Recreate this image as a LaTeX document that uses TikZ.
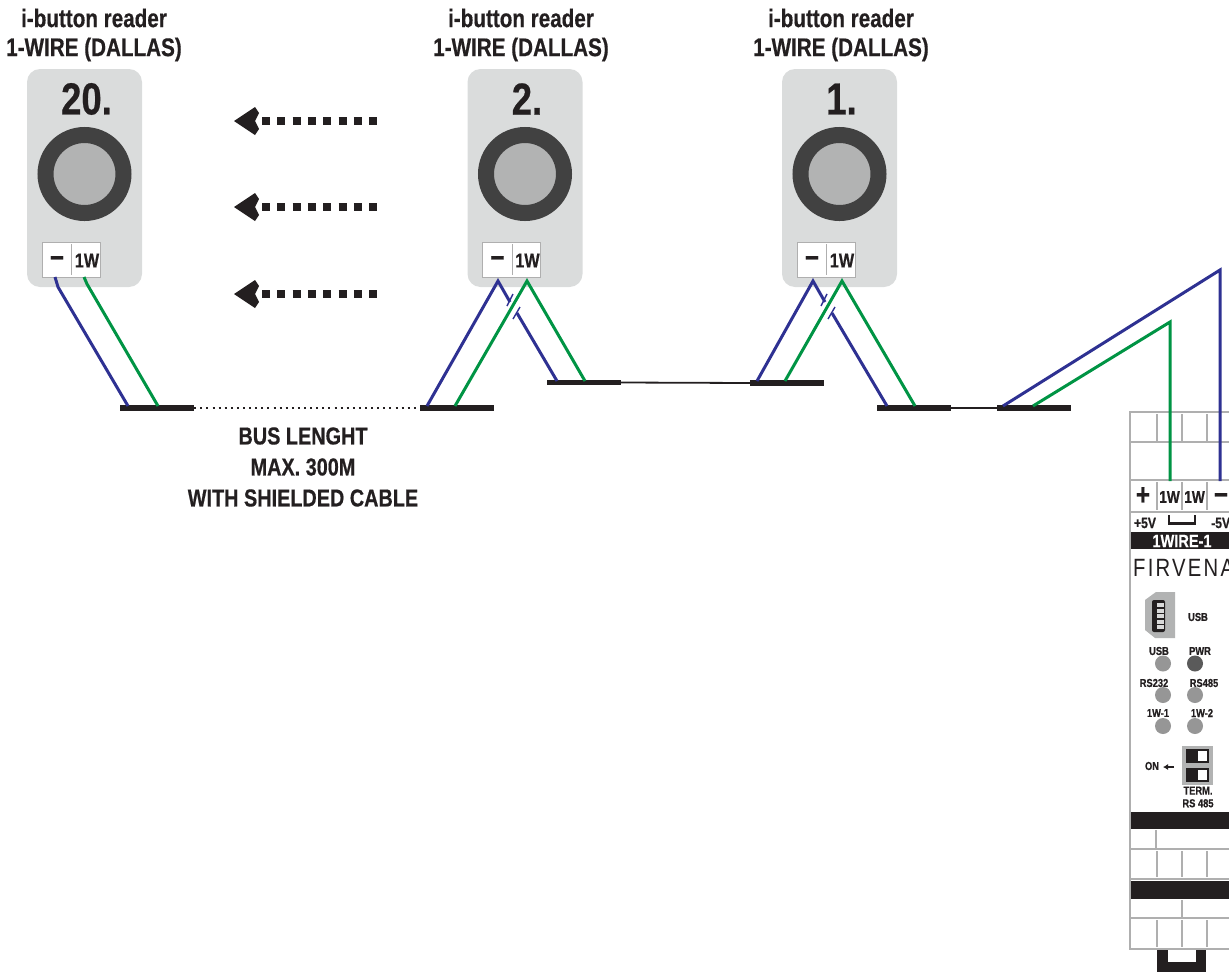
\documentclass[tikz,border=0pt]{standalone}
\usepackage{fontspec}
\setmainfont[FakeStretch=0.81,BoldFeatures={FakeBold=0.5}]{Liberation Sans}
\usetikzlibrary{arrows.meta}
\definecolor{wblue}{RGB}{46,49,146}
\definecolor{wgreen}{RGB}{0,148,68}
\definecolor{panel}{RGB}{218,220,220}
\definecolor{ringc}{RGB}{65,65,65}
\definecolor{corec}{RGB}{178,179,179}
\definecolor{ink}{RGB}{35,31,32}
\definecolor{ledc}{RGB}{150,150,150}
\definecolor{lined}{RGB}{175,175,175}
\tikzset{
 x=1pt,y=-1pt,
 title/.style={font=\bfseries\fontsize{25.5}{25.5}\selectfont,text=ink,inner sep=0,align=center},
 readerbody/.style={fill=panel,draw=none,rounded corners=13pt,minimum width=115pt,minimum height=218pt,inner sep=0},
 ring/.style={circle,fill=corec,draw=ringc,line width=16pt,minimum size=78pt,inner sep=0},
 numlabel/.style={font=\bfseries\fontsize{45}{45}\selectfont,text=ink,inner sep=0},
 termbox/.style={fill=white,draw=lined,line width=.7pt,minimum width=58pt,minimum height=35pt,inner sep=0},
 termtxt/.style={font=\bfseries\fontsize{20}{20}\selectfont,text=ink,inner sep=0},
 bluew/.style={draw=wblue,line width=3pt,line join=miter},
 greenw/.style={draw=wgreen,line width=3pt,line join=miter},
 busbar/.style={fill=ink,draw=none,minimum width=74pt,minimum height=5.6pt,inner sep=0},
 thin wire/.style={draw=ink,line width=1.8pt},
 dev/.style={draw=lined,line width=2pt},
 devthin/.style={draw=lined,line width=1.6pt},
 smalltxt/.style={font=\bfseries\fontsize{11.5}{11.5}\selectfont,text=ink,inner sep=0},
 led/.style={circle,fill=ledc,draw=none,minimum size=16pt,inner sep=0},
 dotarrow/.style={draw=ink,line width=8pt,dash pattern=on 8pt off 7.3pt},
 headfill/.style={fill=ink,draw=none},
}
\newcommand{\reader}[4]{% name, x-centre, number, label x
 \node[readerbody] (#1body) at (#2,178) {};
 \node[ring] (#1ring) at (#2,174) {};
 \node[numlabel] (#1num) at (#2+2,99) {#3};
 \node[termbox] (#1term) at (#2-13.5,259.5) {};
 \node[termtxt,font=\bfseries\fontsize{30}{30}\selectfont] (#1minus) at (#2-27.5,262) {−};
 \node[termtxt] (#1one) at (#2+2.5,260.5) {1W};
 \draw[draw=lined,line width=.8pt] (#2-13,244) -- (#2-13,275);
 \node[title] (#1title) at (#4,35) {i-button reader\\[3.5pt]1-WIRE (DALLAS)};
}
\begin{document}
\begin{tikzpicture}
\useasboundingbox (0,0) rectangle (1229,972);
\reader{c}{84.5}{20.}{94}
\reader{b}{525}{2.}{521}
\reader{a}{839.5}{1.}{841}
% dotted arrows
\foreach \n/\yy in {p/121,q/207,r/294}{
 \coordinate (\n s) at (262,\yy);
 \coordinate (\n e) at (379,\yy);
 \draw[dotarrow] (\n s) -- (\n e);
 \fill[headfill] (234,\yy) -- (255,\yy-14) -- (259,\yy-8) -- (255,\yy) -- (259,\yy+8) -- (255,\yy+14) -- cycle;
}
% bus bars
\node[busbar] (b1) at (157,408) {};
\node[busbar] (b2) at (457,408) {};
\node[busbar] (b3) at (584,382.5) {};
\node[busbar] (b4) at (787,383) {};
\node[busbar] (b5) at (914,408) {};
\node[busbar] (b6) at (1034,408) {};
\draw[ink,line width=2pt,dash pattern=on 2pt off 4.1pt] (b1.east) -- (b2.west);
\draw[thin wire] (b3.east) -- (b4.west);
\draw[thin wire] (b5.east) -- (b6.west);
% reader 20 wires
\draw[bluew] (55,277) -- (58,287) -- (128,406);
\draw[greenw] (84,277) -- (87,284) -- (158,406);
% reader 2 wires
\draw[bluew] (427,406) -- (498,281) -- (510,302);
\draw[wblue,line width=1.4pt] (507,306) -- (513,294);
\draw[wblue,line width=1.4pt] (513,319) -- (520,307);
\draw[bluew] (517,313) -- (557,381);
\draw[greenw] (455,406) -- (527,281) -- (585,381);
% reader 1 wires
\draw[bluew] (757,381) -- (813,281) -- (825,302);
\draw[wblue,line width=1.4pt] (821,306) -- (827,294);
\draw[wblue,line width=1.4pt] (828,319) -- (835,307);
\draw[bluew] (832,313) -- (887,406);
\draw[greenw] (785,381) -- (842,281) -- (915,406);
% bus text
\node[title,font=\bfseries\fontsize{24.5}{24.5}\selectfont] (bustext) at (303,467) {BUS LENGHT\\[6.5pt]MAX. 300M\\[6.5pt]WITH SHIELDED CABLE};
% device
\fill[white] (1130,412) rectangle (1229,949);
\draw[dev] (1229,412) -- (1130,412) -- (1130,949) -- (1229,949);
\draw[devthin] (1130,442) -- (1229,442);
\draw[dev] (1130,480) -- (1229,480);
\draw[devthin] (1130,512) -- (1229,512);
\foreach \xx in {1157,1182,1207}{
 \draw[devthin] (\xx,414) -- (\xx,441);
 \draw[devthin] (\xx,482) -- (\xx,510);
 \draw[devthin] (\xx,851) -- (\xx,877);
 \draw[devthin] (\xx,920) -- (\xx,947);
}
\draw[devthin] (1156,830) -- (1156,848);
\draw[devthin] (1182,900) -- (1182,917);
\draw[devthin] (1130,849) -- (1229,849);
\draw[devthin] (1130,918) -- (1229,918);
\draw[dev] (1130,879) -- (1229,879);
\fill[ink] (1131,532) rectangle (1229,549);
\fill[ink] (1131,812) rectangle (1229,829);
\fill[ink] (1131,881) rectangle (1229,899);
% foot
\fill[ink] (1157,950) rectangle (1206,972);
\fill[white] (1168,950) rectangle (1196,962);
% terminals
\node[termtxt,font=\bfseries\fontsize{30}{30}\selectfont] (tplus) at (1143,496) {+};
\node[termtxt,font=\bfseries\fontsize{17}{17}\selectfont] (t1) at (1169.5,497) {1W};
\node[termtxt,font=\bfseries\fontsize{17}{17}\selectfont] (t2) at (1194.5,497) {1W};
\node[termtxt,font=\bfseries\fontsize{30}{30}\selectfont] (tminus) at (1221,499) {−};
\node[smalltxt,font=\bfseries\fontsize{15}{15}\selectfont] (vp) at (1145,523) {+5V};
\node[smalltxt,font=\bfseries\fontsize{15}{15}\selectfont,anchor=west] (vm) at (1211,523) {-5V};
\draw[ink,line width=2.4pt] (1169,515) -- (1169,523.5) -- (1195,523.5) -- (1195,515);
\node[font=\bfseries\fontsize{18}{18}\selectfont,text=white,inner sep=0] (wname) at (1182,541) {1WIRE-1};
\node[anchor=west,font=\fontsize{25}{25}\selectfont,text=ink,inner sep=0] (brand) at (1133,567.5) {\addfontfeature{LetterSpace=9}FIRVENA};
% wires to device
\draw[bluew] (1003,406) -- (1220,270) -- (1220,481);
\draw[greenw] (1033,406) -- (1170,322) -- (1170,481);
% usb
\fill[corec] (1156,592) -- (1175,592) -- (1175,638) -- (1155,638) -- (1145,630) -- (1145,600) -- cycle;
\fill[ink,rounded corners=2pt] (1152,600) rectangle (1165,632);
\foreach \yy in {605,611,616,622,627}{\fill[white!85!black] (1157,\yy-2) rectangle (1164,\yy+2);}
\node[smalltxt] (u0) at (1198,617) {USB};
\node[smalltxt] (u1) at (1159,651) {USB};
\node[smalltxt] (u2) at (1200,651) {PWR};
\node[led] (l1) at (1163,663.5) {};
\node[led,fill=ledc!60!black] (l2) at (1195,663.5) {};
\node[smalltxt] (u3) at (1154,683) {RS232};
\node[smalltxt] (u4) at (1204,683) {RS485};
\node[led] (l3) at (1163,695) {};
\node[led] (l4) at (1195,695) {};
\node[smalltxt] (u5) at (1158,713) {1W-1};
\node[smalltxt] (u6) at (1202,713) {1W-2};
\node[led] (l5) at (1163,726) {};
\node[led] (l6) at (1195,726) {};
% switch
\fill[corec] (1182,746) rectangle (1213,785);
\fill[ink] (1186,749) rectangle (1209,763);
\fill[ink] (1186,768) rectangle (1209,782);
\fill[white] (1198,751) rectangle (1207,761);
\fill[white] (1198,770) rectangle (1207,780);
\node[smalltxt] (on) at (1152,766) {ON};
\coordinate (ona) at (1174,767);
\coordinate (onb) at (1163,767);
\draw[ink,line width=2pt,-{Latex[length=5pt,width=6pt]}] (ona) -- (onb);
\node[smalltxt,align=center] (trm) at (1198,797) {TERM.\\[1.2pt]RS 485};
\end{tikzpicture}
\end{document}
